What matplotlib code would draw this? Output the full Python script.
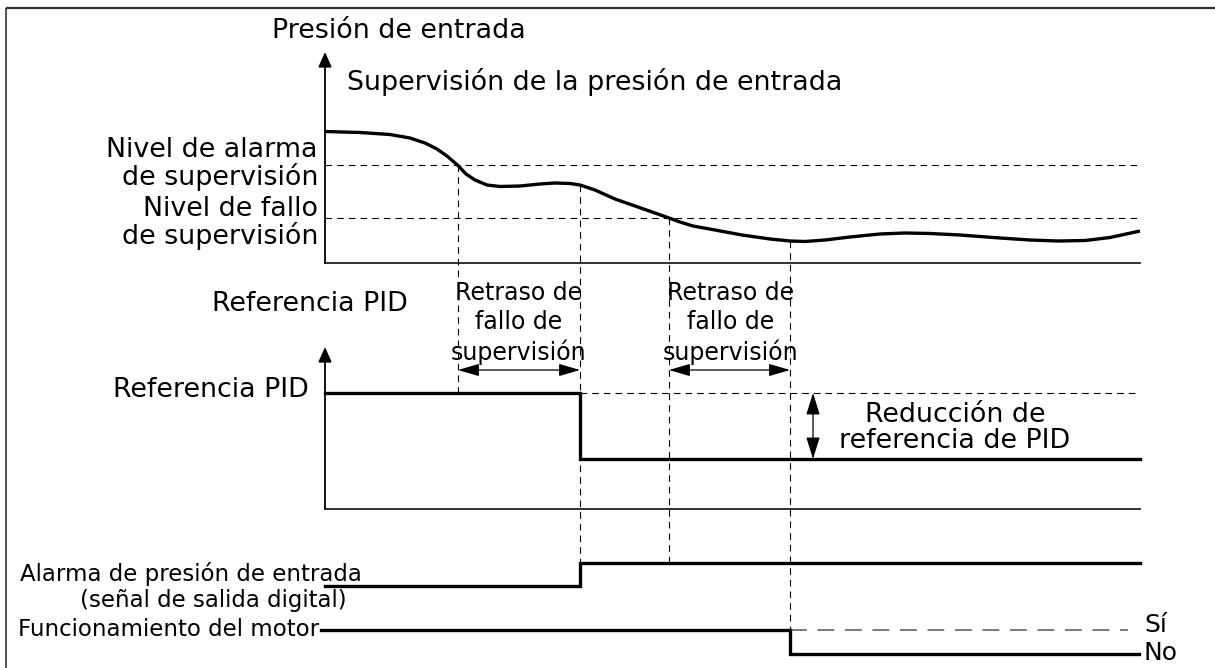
import matplotlib
matplotlib.use("Agg")
import matplotlib.pyplot as plt
from matplotlib.patches import FancyArrowPatch

plt.rcParams['font.family'] = ['DejaVu Sans']

# ---------------- data (pixel-space diagram coordinates) ----------------
curve_x = [325, 360, 390, 410, 425, 437, 447, 458, 466, 475, 487, 500, 520, 540, 555,
           570, 580, 595, 615, 635, 655, 669, 680, 693, 715, 742, 770, 790, 805, 825,
           850, 880, 905, 930, 960, 1000, 1030, 1058, 1085, 1110, 1140]
curve_y = [131.5, 132.5, 134.5, 138, 143, 149, 156, 165.5, 174, 180, 185, 186.5, 186, 184, 183,
           183.5, 185, 190, 199, 206, 213, 218, 222, 226, 230, 235, 239, 241, 241.5, 240,
           237, 234, 233, 233.5, 235, 238, 240, 241, 240.5, 237.5, 231]

axis_x = 325
x_end = 1140
alarm_level = 165
fault_level = 218
top_axis = (52, 263)
mid_axis = (347, 509)

t_alarm, t_ref, t_fault, t_stop = 458, 580, 669, 790

pid_x = [325, 580, 580, 1140]
pid_y = [393, 393, 459, 459]

alarm_x = [325, 580, 580, 1140]
alarm_y = [586, 586, 563, 563]

motor_x = [321, 790, 790, 1139]
motor_y = [630, 630, 654, 654]

vdash = [(t_alarm, 165, 393), (t_ref, 185, 563), (t_fault, 218, 563), (t_stop, 241, 631)]

big_fs = 19.4
delay_fs = 17
small_fs = 16.5
yn_fs = 18

fig = plt.figure(figsize=(12.15, 6.68), dpi=100)
ax = fig.add_axes([0, 0, 1, 1])
ax.set_xlim(0, 1215)
ax.set_ylim(668, 0)
ax.axis('off')

# frame (top and left only)
ax.plot([6, 1215], [8, 8], color='#333333', lw=1.6, solid_capstyle='butt')
ax.plot([6, 6], [8, 668], color='#333333', lw=1.2, solid_capstyle='butt')

def axis_arrow(y0, y1):
    ax.annotate('', xy=(axis_x, y0), xytext=(axis_x, y1),
                arrowprops=dict(arrowstyle='-|>,head_length=0.9,head_width=0.4',
                                color='black', lw=1.3, shrinkA=0, shrinkB=0))

# top panel axes
axis_arrow(*top_axis)
ax.plot([axis_x, x_end], [top_axis[1]] * 2, color='#222222', lw=1.3)
ax.plot([axis_x, x_end], [alarm_level] * 2, color='black', lw=0.8, ls=(0, (6, 4.5)))
ax.plot([axis_x, x_end], [fault_level] * 2, color='black', lw=0.8, ls=(0, (6, 4.5)))
ax.plot(curve_x, curve_y, color='black', lw=2.4, solid_capstyle='butt',
        solid_joinstyle='round')

# middle panel axes
axis_arrow(*mid_axis)
ax.plot([axis_x, x_end], [mid_axis[1]] * 2, color='#222222', lw=1.3)
ax.plot([580, x_end], [393, 393], color='black', lw=0.8, ls=(0, (6, 4.5)))
ax.plot(pid_x, pid_y, color='black', lw=2.4, solid_joinstyle='miter')

# vertical dashed markers
for x, y0, y1 in vdash:
    ax.plot([x, x], [y0, y1], color='black', lw=0.8, ls=(0, (6, 4.5)))

# delay arrows
for xa, xb in [(t_alarm, t_ref), (t_fault, t_stop)]:
    ax.add_patch(FancyArrowPatch((xa, 370), (xb, 370),
                                 arrowstyle='<|-|>,head_length=13,head_width=3.8',
                                 color='black', lw=0.9, shrinkA=0, shrinkB=0,
                                 mutation_scale=1))
ax.add_patch(FancyArrowPatch((813, 393), (813, 459),
                             arrowstyle='<|-|>,head_length=13.5,head_width=4.2',
                             color='black', lw=0.9, shrinkA=0, shrinkB=0,
                             mutation_scale=1))

# digital signals
ax.plot(alarm_x, alarm_y, color='black', lw=2.4, solid_joinstyle='miter')
ax.plot([790, 1128], [630, 630], color='#555555', lw=1.1, ls=(0, (11, 7)))
ax.plot(motor_x, motor_y, color='black', lw=2.4, solid_joinstyle='miter')

# texts
T = dict(fontsize=big_fs, color='black')
ax.text(272, 31, 'Presión de entrada', ha='left', va='center', **T)
ax.text(347, 82, 'Supervisión de la presión de entrada', ha='left', va='center', **T)
ax.text(318, 164, 'Nivel de alarma\nde supervisión', ha='right', va='center',
        linespacing=0.99, multialignment='right', **T)
ax.text(318, 223, 'Nivel de fallo\nde supervisión', ha='right', va='center',
        linespacing=0.99, multialignment='right', **T)
ax.text(310, 304, 'Referencia PID', ha='center', va='center', **T)
ax.text(309, 390, 'Referencia PID', ha='right', va='center', **T)
for cx in [519, 731]:
    ax.text(cx, 323, 'Retraso de\nfallo de\nsupervisión', ha='center', va='center',
            linespacing=1.25, fontsize=delay_fs)
ax.text(955, 428, 'Reducción de\nreferencia de PID', ha='center', va='center',
        linespacing=1.03, **T)
ax.text(20, 574, 'Alarma de presión de entrada', ha='left', va='center', fontsize=small_fs)
ax.text(80, 601, '(señal de salida digital)', ha='left', va='center', fontsize=small_fs)
ax.text(18, 629, 'Funcionamiento del motor', ha='left', va='center', fontsize=small_fs)
ax.text(1144, 625, 'Sí', ha='left', va='center', fontsize=yn_fs)
ax.text(1144, 653, 'No', ha='left', va='center', fontsize=yn_fs)

fig.savefig('out.png', dpi=100)
